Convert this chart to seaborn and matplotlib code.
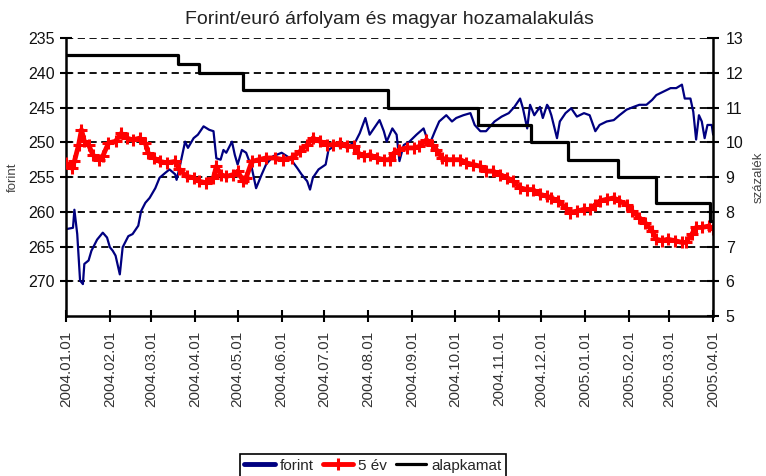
import pandas as pd
import matplotlib
matplotlib.use("Agg")
import matplotlib.pyplot as plt
import matplotlib.dates as mdates
import seaborn as sns

sns.set_theme(style="white")
plt.rcParams["font.family"] = ["Liberation Sans", "DejaVu Sans"]

# forint/euro arfolyam (bal tengely, forditott)
forint_dates = [
    "2004-01-01", "2004-01-06", "2004-01-07", "2004-01-09", "2004-01-11", "2004-01-13",
    "2004-01-14", "2004-01-17", "2004-01-19", "2004-01-23", "2004-01-27", "2004-01-30",
    "2004-02-01", "2004-02-03", "2004-02-05", "2004-02-08", "2004-02-10", "2004-02-14",
    "2004-02-17", "2004-02-21", "2004-02-23", "2004-02-26", "2004-02-29", "2004-03-04",
    "2004-03-07", "2004-03-11", "2004-03-14", "2004-03-18", "2004-03-19", "2004-03-21",
    "2004-03-25", "2004-03-27", "2004-03-31", "2004-04-03", "2004-04-07", "2004-04-11",
    "2004-04-14", "2004-04-16", "2004-04-19", "2004-04-21", "2004-04-23", "2004-04-27",
    "2004-04-29", "2004-05-01", "2004-05-04", "2004-05-07", "2004-05-11", "2004-05-14",
    "2004-05-18", "2004-05-21", "2004-05-26", "2004-06-01", "2004-06-07", "2004-06-12",
    "2004-06-15", "2004-06-19", "2004-06-21", "2004-06-23", "2004-06-27", "2004-07-02",
    "2004-07-04", "2004-07-09", "2004-07-12", "2004-07-16", "2004-07-19", "2004-07-23",
    "2004-07-26", "2004-07-30", "2004-08-02", "2004-08-06", "2004-08-09", "2004-08-12",
    "2004-08-14", "2004-08-18", "2004-08-21", "2004-08-23", "2004-08-26", "2004-08-30",
    "2004-09-04", "2004-09-09", "2004-09-13", "2004-09-17", "2004-09-20", "2004-09-25",
    "2004-09-29", "2004-10-02", "2004-10-07", "2004-10-12", "2004-10-15", "2004-10-19",
    "2004-10-23", "2004-10-29", "2004-11-03", "2004-11-08", "2004-11-12", "2004-11-16",
    "2004-11-18", "2004-11-21", "2004-11-23", "2004-11-26", "2004-11-30", "2004-12-02",
    "2004-12-05", "2004-12-06", "2004-12-08", "2004-12-12", "2004-12-14", "2004-12-18",
    "2004-12-22", "2004-12-26", "2004-12-31", "2005-01-04", "2005-01-08", "2005-01-11",
    "2005-01-16", "2005-01-21", "2005-01-25", "2005-01-30", "2005-02-04", "2005-02-08",
    "2005-02-13", "2005-02-17", "2005-02-20", "2005-02-25", "2005-03-02", "2005-03-06",
    "2005-03-10", "2005-03-12", "2005-03-16", "2005-03-18", "2005-03-20", "2005-03-22",
    "2005-03-24", "2005-03-26", "2005-03-28", "2005-03-31", "2005-04-01",
]
forint_values = [
    262.5, 262.3, 259.7, 263.2, 269.9, 270.4,
    267.5, 267.0, 265.6, 264.0, 263.0, 263.7,
    265.1, 265.6, 266.3, 269.0, 265.1, 263.5,
    263.2, 262.0, 259.9, 258.7, 258.0, 256.6,
    255.1, 254.4, 253.9, 254.6, 255.4, 253.7,
    249.9, 250.8, 249.4, 248.9, 247.7, 248.2,
    248.4, 252.3, 252.5, 251.1, 251.5, 249.9,
    251.8, 253.2, 251.1, 251.5, 253.7, 256.6,
    254.6, 253.2, 252.0, 251.5, 252.3, 253.7,
    254.6, 255.6, 256.8, 255.1, 253.9, 253.2,
    251.1, 250.4, 250.6, 250.1, 250.4, 249.9,
    248.7, 246.5, 248.9, 247.7, 246.8, 248.4,
    249.9, 248.0, 248.9, 252.7, 250.4, 249.9,
    248.9, 248.0, 250.4, 248.4, 247.0, 246.1,
    247.0, 246.5, 246.1, 245.8, 247.5, 248.4,
    248.4, 247.0, 246.3, 245.8, 244.9, 243.7,
    245.1, 248.0, 244.6, 246.1, 244.9, 246.5,
    244.6, 244.9, 246.1, 249.4, 247.0, 245.8,
    245.1, 246.3, 245.8, 246.1, 248.4, 247.5,
    247.0, 246.8, 246.1, 245.3, 244.9, 244.6,
    244.6, 243.9, 243.2, 242.7, 242.2, 242.2,
    241.7, 243.7, 243.7, 245.6, 249.6, 246.1,
    247.0, 249.4, 247.5, 247.5, 248.9,
]

# 5 eves hozam (jobb tengely, %)
yield_dates = [
    "2004-01-01", "2004-01-05", "2004-01-07", "2004-01-10", "2004-01-12", "2004-01-14",
    "2004-01-17", "2004-01-20", "2004-01-24", "2004-01-27", "2004-01-31", "2004-02-05",
    "2004-02-09", "2004-02-13", "2004-02-17", "2004-02-22", "2004-02-26", "2004-02-28",
    "2004-03-03", "2004-03-07", "2004-03-12", "2004-03-18", "2004-03-21", "2004-03-26",
    "2004-03-31", "2004-04-04", "2004-04-09", "2004-04-14", "2004-04-16", "2004-04-19",
    "2004-04-23", "2004-04-28", "2004-05-01", "2004-05-05", "2004-05-07", "2004-05-11",
    "2004-05-16", "2004-05-21", "2004-05-27", "2004-06-02", "2004-06-08", "2004-06-14",
    "2004-06-19", "2004-06-23", "2004-06-28", "2004-07-03", "2004-07-07", "2004-07-12",
    "2004-07-17", "2004-07-22", "2004-07-25", "2004-07-29", "2004-08-02", "2004-08-07",
    "2004-08-12", "2004-08-16", "2004-08-19", "2004-08-23", "2004-08-28", "2004-09-02",
    "2004-09-06", "2004-09-11", "2004-09-15", "2004-09-18", "2004-09-22", "2004-09-25",
    "2004-09-30", "2004-10-05", "2004-10-09", "2004-10-14", "2004-10-19", "2004-10-23",
    "2004-10-28", "2004-11-02", "2004-11-07", "2004-11-11", "2004-11-16", "2004-11-21",
    "2004-11-25", "2004-11-30", "2004-12-05", "2004-12-08", "2004-12-13", "2004-12-18",
    "2004-12-21", "2004-12-26", "2004-12-31", "2005-01-04", "2005-01-08", "2005-01-11",
    "2005-01-16", "2005-01-21", "2005-01-25", "2005-01-30", "2005-02-03", "2005-02-08",
    "2005-02-12", "2005-02-17", "2005-02-20", "2005-02-24", "2005-02-28", "2005-03-05",
    "2005-03-10", "2005-03-13", "2005-03-17", "2005-03-20", "2005-03-24", "2005-03-29",
    "2005-04-01",
]
yield_values = [
    9.41, 9.26, 9.45, 9.93, 10.36, 10.03,
    9.93, 9.64, 9.50, 9.60, 9.98, 10.03,
    10.26, 10.12, 10.07, 10.12, 9.98, 9.69,
    9.55, 9.45, 9.41, 9.45, 9.22, 9.02,
    8.98, 8.88, 8.83, 8.98, 9.31, 9.07,
    9.02, 9.07, 9.17, 8.88, 8.98, 9.45,
    9.50, 9.55, 9.55, 9.50, 9.55, 9.74,
    9.93, 10.12, 10.03, 9.93, 9.93, 9.98,
    9.88, 9.88, 9.69, 9.60, 9.64, 9.55,
    9.50, 9.50, 9.69, 9.79, 9.84, 9.84,
    9.88, 10.07, 9.93, 9.79, 9.55, 9.50,
    9.50, 9.50, 9.41, 9.36, 9.31, 9.17,
    9.17, 9.07, 8.98, 8.88, 8.69, 8.64,
    8.64, 8.50, 8.45, 8.40, 8.31, 8.12,
    7.98, 8.02, 8.07, 8.07, 8.21, 8.31,
    8.36, 8.40, 8.31, 8.21, 8.02, 7.83,
    7.69, 7.45, 7.21, 7.17, 7.21, 7.17,
    7.12, 7.12, 7.36, 7.55, 7.55, 7.59,
    7.50,
]

# jegybanki alapkamat (jobb tengely, %)
base_dates = [
    "2004-01-01", "2004-03-20", "2004-04-04", "2004-05-05", "2004-08-15", "2004-10-17",
    "2004-11-24", "2004-12-20", "2005-01-24", "2005-02-20", "2005-03-30", "2005-04-01",
]
base_values = [12.5, 12.25, 12.0, 11.5, 11.0, 10.5, 10.0, 9.5, 9.0, 8.25, 7.75, 7.75]

month_ticks = pd.date_range("2004-01-01", "2005-04-01", freq="MS")
left_ticks = [235, 240, 245, 250, 255, 260, 265, 270]
right_ticks = [5, 6, 7, 8, 9, 10, 11, 12, 13]

forint = pd.DataFrame({"datum": pd.to_datetime(forint_dates), "ertek": forint_values})
hozam = pd.DataFrame({"datum": pd.to_datetime(yield_dates), "ertek": yield_values})
alap = pd.DataFrame({"datum": pd.to_datetime(base_dates), "ertek": base_values})

fig = plt.figure(figsize=(7.66, 4.76), dpi=100)
ax = fig.add_axes([0.086, 0.336, 0.845, 0.584])
ax2 = ax.twinx()

sns.lineplot(data=forint, x="datum", y="ertek", ax=ax, color="#000080",
             linewidth=1.6, label="forint")
sns.lineplot(data=hozam, x="datum", y="ertek", ax=ax2, color="#ff0000",
             linewidth=3.5, marker="+", markersize=8, markeredgewidth=2.2,
             markeredgecolor="#ff0000", label="5 év")
sns.lineplot(data=alap, x="datum", y="ertek", ax=ax2, color="black",
             linewidth=2.3, drawstyle="steps-post", label="alapkamat")

h1, l1 = ax.get_legend_handles_labels()
h2, l2 = ax2.get_legend_handles_labels()
ax.get_legend().remove()
ax2.get_legend().remove()

ax.set_ylim(275, 235)
ax2.set_ylim(5, 13)
ax.set_xlim(pd.Timestamp("2004-01-01"), pd.Timestamp("2005-04-01"))
ax.set_yticks(left_ticks)
ax2.set_yticks(right_ticks)
ax.set_xticks(month_ticks)
ax.xaxis.set_major_formatter(mdates.DateFormatter("%Y.%m.%d"))

ax.yaxis.grid(True, color="black", linestyle=(0, (4, 2.5)), linewidth=1.3)
ax.xaxis.grid(False)
ax2.grid(False)

for a in (ax, ax2):
    a.spines["top"].set_visible(False)
    for s in ("left", "right", "bottom"):
        a.spines[s].set_color("black")
        a.spines[s].set_linewidth(1.8)
ax.spines["right"].set_visible(False)
ax2.spines["left"].set_visible(False)
ax2.spines["bottom"].set_visible(False)

ax.tick_params(axis="y", left=True, direction="inout", length=8, width=1.5,
               color="black", labelsize=11.5, labelcolor="#111111", pad=4)
ax2.tick_params(axis="y", right=True, direction="inout", length=8, width=1.5,
                color="black", labelsize=11.5, labelcolor="#111111", pad=5)
ax.tick_params(axis="x", bottom=True, direction="inout", length=9, width=1.5,
               color="black", labelsize=11, labelcolor="#333333",
               labelrotation=90, pad=6)

ax.set_xlabel("")
ax.set_ylabel("forint", fontsize=9.5, color="#444444", labelpad=7)
ax2.set_ylabel("százalék", fontsize=9.5, color="#444444", labelpad=7, rotation=90)
ax.set_title("Forint/euró árfolyam és magyar hozamalakulás", fontsize=14,
             color="#222222", pad=10)

leg = fig.legend(h1 + h2, l1 + l2, loc="upper left", bbox_to_anchor=(0.313, 0.046),
                 ncol=3, frameon=True, fancybox=False, edgecolor="black",
                 framealpha=1, fontsize=11, handlelength=2, handletextpad=0.3,
                 columnspacing=0.6, borderpad=0.3, borderaxespad=0)
leg.get_frame().set_linewidth(1.2)
leg.get_lines()[0].set_linewidth(3.5)

fig.savefig("out.png", dpi=100)
